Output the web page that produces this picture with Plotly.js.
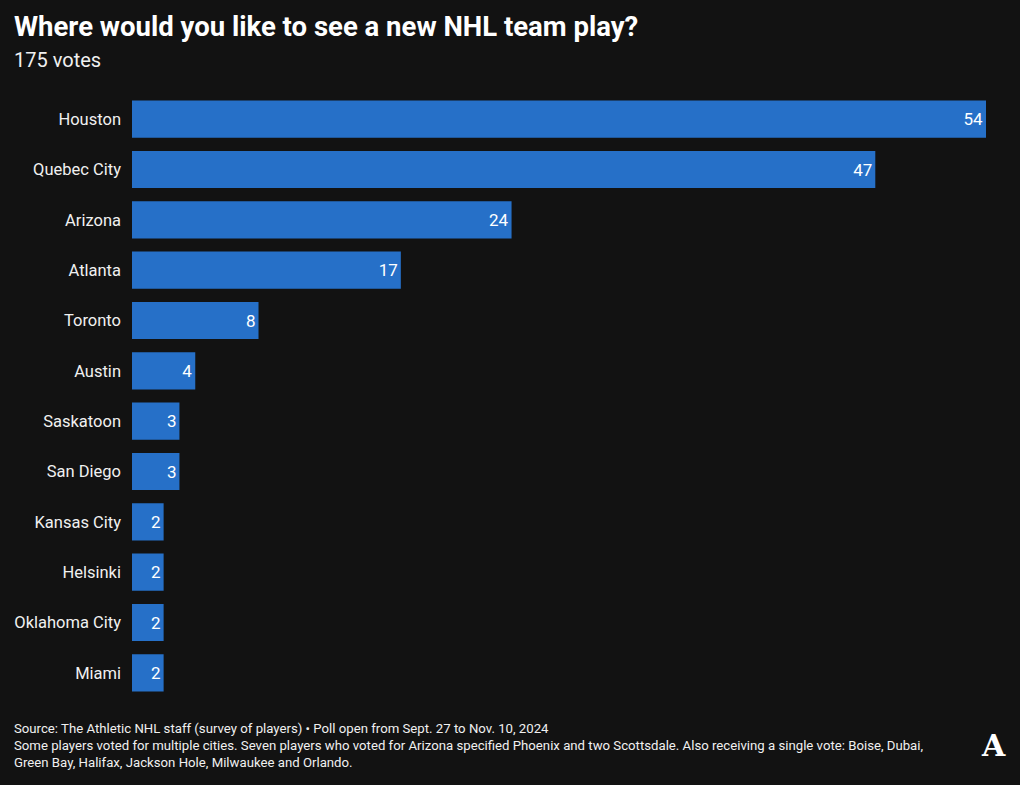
<!DOCTYPE html>
<html><head><meta charset="utf-8">
<script src="https://cdn.plot.ly/plotly-3.0.1.min.js"></script>
<style>html,body{margin:0;padding:0;background:#121212;}#chart{width:1020px;height:785px;}</style>
</head><body><div id="chart"></div>
<script>
const cities = ["Houston","Quebec City","Arizona","Atlanta","Toronto","Austin","Saskatoon","San Diego","Kansas City","Helsinki","Oklahoma City","Miami"];
const votes = [54,47,24,17,8,4,3,3,2,2,2,2];
const titleText = "Where would you like to see a new NHL team play?";
const subtitleText = "175 votes";
const sourceText = "Source: The Athletic NHL staff (survey of players) • Poll open from Sept. 27 to Nov. 10, 2024";
const noteText = "Some players voted for multiple cities. Seven players who voted for Arizona specified Phoenix and two Scottsdale. Also receiving a single vote: Boise, Dubai,<br>Green Bay, Halifax, Jackson Hole, Milwaukee and Orlando.";

const font = "Roboto, Arial, sans-serif";
const leftX = (12 - 132) / 854;
const trace = {
  type: "bar", orientation: "h",
  x: votes, y: cities,
  marker: {color: "#2670C8", line: {width: 0}},
  text: votes.map(String),
  textposition: "inside", insidetextanchor: "end",
  textfont: {color: "#ffffff", size: 17, family: "Roboto, Arial, sans-serif"},
  hoverinfo: "none", cliponaxis: false
};
const layout = {
  width: 1020, height: 785,
  paper_bgcolor: "#121212", plot_bgcolor: "#121212",
  margin: {l: 132, r: 34, t: 94, b: 87},
  bargap: 0.26,
  showlegend: false,
  xaxis: {range: [0, 54], visible: false, fixedrange: true},
  yaxis: {autorange: "reversed", showgrid: false, zeroline: false, showline: false, ticks: "",
    ticklabelstandoff: 10,
    tickfont: {color: "#f0f0f0", size: 16.5, family: "Roboto, Arial, sans-serif"}},
  annotations: [
    {xref: "paper", yref: "paper", x: leftX, y: 1, xanchor: "left", yanchor: "bottom", showarrow: false,
      text: "<b>" + titleText + "</b>", font: {family: font, size: 27.5, color: "#ffffff"}, yshift: 49},
    {xref: "paper", yref: "paper", x: leftX, y: 1, xanchor: "left", yanchor: "bottom", showarrow: false,
      text: subtitleText, font: {family: font, size: 20, color: "#f0f0f0"}, yshift: 20},
    {xref: "paper", yref: "paper", x: leftX, y: 0, xanchor: "left", yanchor: "top", showarrow: false, align: "left",
      text: sourceText + "<br>" + noteText, font: {family: font, size: 13.2, color: "#f0f0f0"}, yshift: -21},
    {xref: "paper", yref: "paper", x: 1, y: 0, xanchor: "right", yanchor: "top", showarrow: false,
      text: "<b>A</b>", font: {family: "DejaVu Serif, serif", size: 30, color: "#ffffff"}, xshift: 22, yshift: -28}
  ]
};
Plotly.newPlot("chart", [trace], layout, {displayModeBar: false, staticPlot: true});
</script></body></html>
